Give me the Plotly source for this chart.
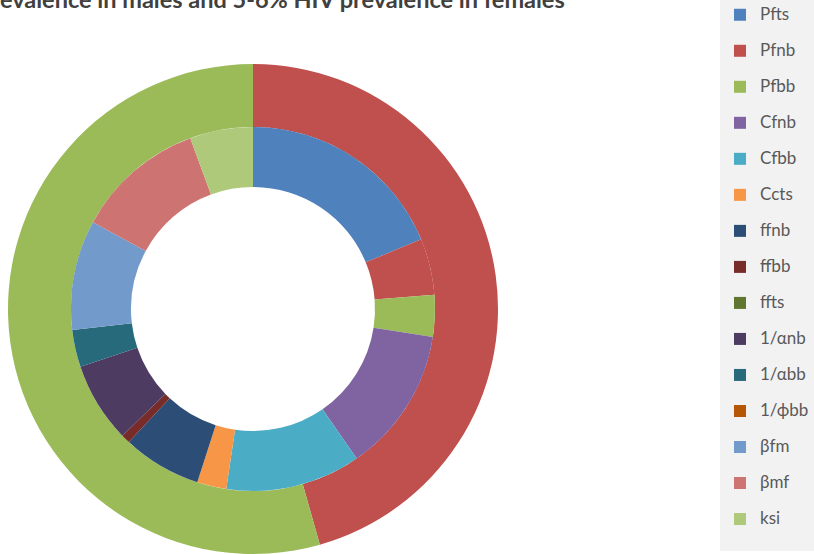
import plotly.graph_objects as go

# ---- data ----
categories = ["Pfts", "Pfnb", "Pfbb", "Cfnb", "Cfbb", "Ccts", "ffnb", "ffbb", "ffts",
              "1/αnb", "1/αbb", "1/ϕbb", "βfm", "βmf", "ksi"]
inner_values = [18.75, 5.0, 3.7, 12.9, 12.0, 2.6, 7.0, 0.8, 0.0, 7.1, 3.3, 0.0, 9.75, 11.5, 5.6]
inner_colors = ["#4F81BD", "#C0504D", "#9BBB59", "#8064A2", "#4BACC6", "#F79646",
                "#2C4D75", "#772C2A", "#5F7530", "#4D3B62", "#276A7C", "#B65708",
                "#729ACA", "#CD7371", "#AFC97A"]

outer_labels = ["Pfnb", "Pfbb"]
outer_values = [45.6, 54.4]
outer_colors = ["#C0504D", "#9BBB59"]

title_text = "evalence in males and 5-6% HIV prevalence in females"

W, H = 814, 554
cx, cy = 253, 309          # donut centre in px
R_out, R_mid, R_in = 245, 182, 122


def dom(r):
    return dict(x=[(cx - r) / W, (cx + r) / W],
                y=[max(0, 1 - (cy + r) / H), 1 - (cy - r) / H])


legend_labels = ['<span style="font-size:17px">%s</span><br>\u00a0' % c for c in categories]

fig = go.Figure()
fig.add_trace(go.Pie(
    labels=outer_labels, values=outer_values, marker=dict(colors=outer_colors, line=dict(width=0)),
    hole=R_mid / R_out, sort=False, direction="clockwise", rotation=0,
    textinfo="none", showlegend=False, domain=dom(R_out), hoverinfo="label+value"))
fig.add_trace(go.Pie(
    labels=legend_labels, values=inner_values, marker=dict(colors=inner_colors, line=dict(width=0)),
    hole=R_in / R_mid, sort=False, direction="clockwise", rotation=0,
    textinfo="none", showlegend=True, domain=dom(R_mid), hoverinfo="value"))

fig.update_layout(
    width=W, height=H, autosize=False,
    margin=dict(l=0, r=0, t=0, b=0),
    paper_bgcolor="white", plot_bgcolor="white",
    font=dict(family="Lato, 'Open Sans', sans-serif", color="#595959"),
    title=dict(text=title_text, x=0, xref="container", xanchor="left",
               y=1, yref="container", yanchor="middle",
               font=dict(size=23.5, color="#404040", family="Lato, sans-serif", weight="bold")),
    legend=dict(x=720 / W, xanchor="left", y=1, yanchor="top",
                bgcolor="#f2f2f2", borderwidth=0, valign="top",
                font=dict(size=12.7, color="#595959", family="Lato, sans-serif"),
                traceorder="normal"),
)

fig.write_html("out.html", config={"displayModeBar": False},
               post_script="document.body.style.margin='0';")
